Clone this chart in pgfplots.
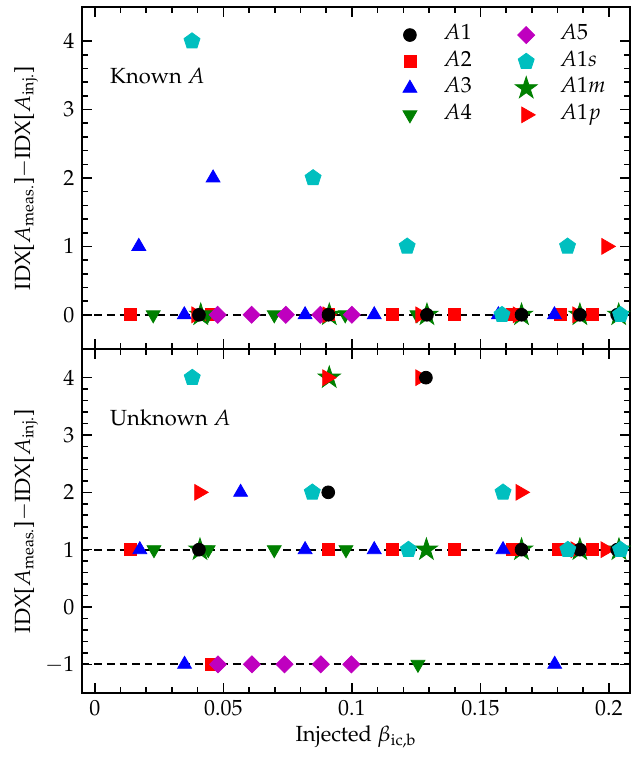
\documentclass[border=0pt,11pt]{standalone}
\usepackage[T1]{fontenc}
\usepackage{mathpazo}
\usepackage{pgfplots}
\pgfplotsset{compat=1.18}
\definecolor{mg}{rgb}{0,0.5,0}
\definecolor{mc}{rgb}{0,0.75,0.75}
\definecolor{mm}{rgb}{0.75,0,0.75}
\pgfdeclareplotmark{fstar}{%
  \pgfpathmoveto{\pgfqpointpolar{90}{\pgfplotmarksize}}%
  \pgfpathlineto{\pgfqpointpolar{126}{0.382\pgfplotmarksize}}%
  \pgfpathlineto{\pgfqpointpolar{162}{\pgfplotmarksize}}%
  \pgfpathlineto{\pgfqpointpolar{198}{0.382\pgfplotmarksize}}%
  \pgfpathlineto{\pgfqpointpolar{234}{\pgfplotmarksize}}%
  \pgfpathlineto{\pgfqpointpolar{270}{0.382\pgfplotmarksize}}%
  \pgfpathlineto{\pgfqpointpolar{306}{\pgfplotmarksize}}%
  \pgfpathlineto{\pgfqpointpolar{342}{0.382\pgfplotmarksize}}%
  \pgfpathlineto{\pgfqpointpolar{18}{\pgfplotmarksize}}%
  \pgfpathlineto{\pgfqpointpolar{54}{0.382\pgfplotmarksize}}%
  \pgfpathclose
  \pgfusepathqfillstroke
}
\pgfplotsset{
 lgd/.style={legend image code/.code={\path (0cm,0cm) (1cm,0cm); \draw[mark repeat=2,mark phase=2,##1] plot coordinates {(0cm,0cm) (0.5cm,0cm) (1cm,0cm)};}},
 sA1/.style={only marks, lgd, mark=*, mark size=3.2pt, color=black},
 sA2/.style={only marks, lgd, mark=square*, mark size=3pt, color=red},
 sA3/.style={only marks, lgd, mark=triangle*, mark size=4pt, color=blue},
 sA4/.style={only marks, lgd, mark=triangle*, mark size=4pt, mark options={rotate=180}, color=mg},
 sA5/.style={only marks, lgd, mark=square*, mark size=3pt, mark options={rotate=45}, color=mm},
 sA1s/.style={only marks, lgd, mark=pentagon*, mark size=4.2pt, color=mc},
 sA1m/.style={only marks, lgd, mark=fstar, mark size=5.8pt, color=mg},
 sA1p/.style={only marks, lgd, mark=triangle*, mark size=4.5pt, mark options={rotate=-90}, color=red},
 refl/.style={black, line width=1.1pt, dash pattern=on 3.8pt off 2.5pt, forget plot},
 common/.style={
  scale only axis, width=274pt,
  xmin=-0.005, xmax=0.2082,
  xtick={0,0.05,0.1,0.15,0.2},
  minor x tick num=4, minor y tick num=4,
  tick align=inside, xtick pos=both, ytick pos=both,
  major tick length=5pt, minor tick length=2.8pt,
  axis line style={line width=1pt},
  tick style={black, line width=0.8pt},
  scaled x ticks=false,
  xticklabel style={/pgf/number format/fixed,/pgf/number format/precision=2},
  ylabel={IDX[$A_{\mathrm{meas.}}$]$-$IDX[$A_{\mathrm{inj.}}$]},
  ylabel style={at={(axis description cs:-0.102,0.5)}, anchor=center},
 },
}
\begin{document}
\begin{tikzpicture}
% ---------- bottom panel: Unknown A ----------
\begin{axis}[common, name=bot, at={(0,0)}, anchor=south west, height=172pt,
  ymin=-1.5, ymax=4.5, ytick={-1,0,1,2,3,4},
  xlabel={Injected $\beta_{\mathrm{ic,b}}$},
  xlabel style={at={(axis description cs:0.5,-0.128)}, anchor=center}]
\addplot[refl] coordinates {(-0.01,1) (0.22,1)};
\addplot[refl] coordinates {(-0.01,-1) (0.22,-1)};
\addplot[sA1m, forget plot] coordinates {(0.0409,1) (0.0912,4) (0.129,1) (0.166,1) (0.1887,1) (0.2039,1)};
\addplot[sA2, forget plot] coordinates {(0.0139,1) (0.0454,-1) (0.0909,1) (0.1158,1) (0.1399,1) (0.1623,1) (0.1805,1) (0.1937,1)};
\addplot[sA3, forget plot] coordinates {(0.0175,1) (0.0349,-1) (0.0567,2) (0.0818,1) (0.1087,1) (0.1588,1) (0.1789,-1)};
\addplot[sA4, forget plot] coordinates {(0.023,1) (0.0441,1) (0.0698,1) (0.0977,1) (0.1257,-1)};
\addplot[sA5, forget plot] coordinates {(0.0479,-1) (0.0611,-1) (0.0738,-1) (0.0879,-1) (0.0998,-1)};
\addplot[sA1p, forget plot] coordinates {(0.0406,2) (0.0904,4) (0.1266,4) (0.1656,2) (0.187,1) (0.1987,1)};
\addplot[sA1, forget plot] coordinates {(0.0405,1) (0.0908,2) (0.1288,4) (0.166,1) (0.1887,1) (0.2032,1)};
\addplot[sA1s, forget plot] coordinates {(0.0379,4) (0.0846,2) (0.122,1) (0.1588,2) (0.184,1) (0.2045,1)};
\node[anchor=west, inner sep=0pt] at (axis cs:0.0058,3.3) {Unknown $A$};
\end{axis}
% ---------- top panel: Known A ----------
\begin{axis}[common, name=top, at={(0,172pt)}, anchor=south west, height=171pt,
  ymin=-0.5, ymax=4.5, ytick={0,1,2,3,4},
  xticklabel=\empty,
  legend columns=2,
  legend cell align=left,
  legend style={draw=none, fill=none, inner sep=0pt,
    at={(axis description cs:0.545,0.958)}, anchor=north west,
    nodes={inner xsep=2.3pt, inner ysep=1.5pt, text height=7.5pt, text depth=2.8pt},
    /tikz/every even column/.append style={column sep=10.5pt}}]
\addlegendimage{sA1}\addlegendentry{$A1$}
\addlegendimage{sA5}\addlegendentry{$A5$}
\addlegendimage{sA2}\addlegendentry{$A2$}
\addlegendimage{sA1s}\addlegendentry{$A1s$}
\addlegendimage{sA3}\addlegendentry{$A3$}
\addlegendimage{sA1m}\addlegendentry{$A1m$}
\addlegendimage{sA4}\addlegendentry{$A4$}
\addlegendimage{sA1p}\addlegendentry{$A1p$}
\addplot[refl] coordinates {(-0.01,0) (0.22,0)};
\addplot[sA1m, forget plot] coordinates {(0.0412,0) (0.0912,0) (0.1292,0) (0.166,0) (0.1887,0) (0.2038,0)};
\addplot[sA2, forget plot] coordinates {(0.0139,0) (0.0454,0) (0.0909,0) (0.1158,0) (0.1399,0) (0.1623,0) (0.1811,0) (0.1937,0)};
\addplot[sA3, forget plot] coordinates {(0.0171,1) (0.0348,0) (0.046,2) (0.0818,0) (0.1087,0) (0.157,0) (0.1788,0)};
\addplot[sA4, forget plot] coordinates {(0.0227,0) (0.044,0) (0.0698,0) (0.0974,0) (0.1253,0)};
\addplot[sA5, forget plot] coordinates {(0.0478,0) (0.061,0) (0.0743,0) (0.0877,0) (0.1,0)};
\addplot[sA1p, forget plot] coordinates {(0.0395,0) (0.0905,0) (0.1266,0) (0.1645,0) (0.1877,0) (0.199,1)};
\addplot[sA1, forget plot] coordinates {(0.0405,0) (0.0909,0) (0.1292,0) (0.166,0) (0.1887,0) (0.2032,0)};
\addplot[sA1s, forget plot] coordinates {(0.0378,4) (0.0849,2) (0.1215,1) (0.1584,0) (0.1839,1) (0.2045,0)};
\node[anchor=west, inner sep=0pt] at (axis cs:0.0058,3.49) {Known $A$};
\end{axis}
\path (bot.south west) ++(-41pt,-32pt);
\path (top.north east) ++(0.5pt,3.5pt);
\end{tikzpicture}
\end{document}
